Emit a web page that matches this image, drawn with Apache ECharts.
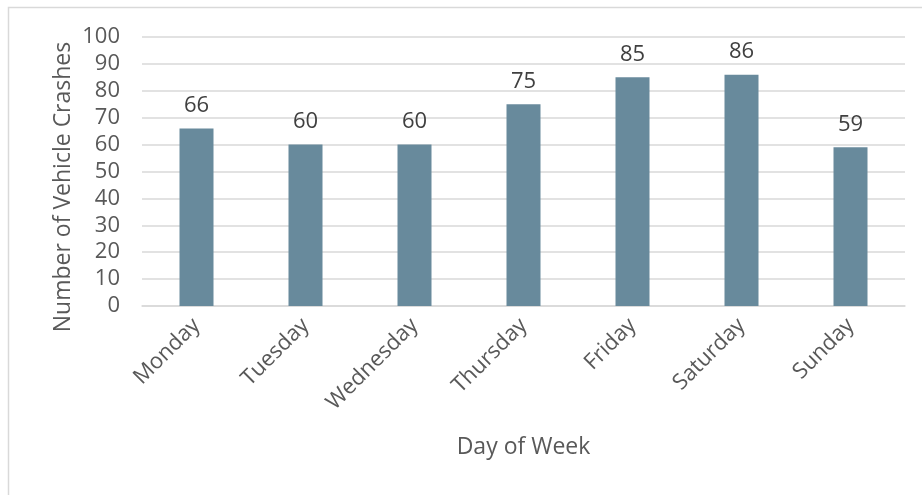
<!DOCTYPE html>
<html>
<head>
<meta charset="utf-8">
<script src="https://cdn.jsdelivr.net/npm/echarts@6/dist/echarts.min.js"></script>
<style>
  html, body { margin: 0; padding: 0; background: #fff; }
  #chart { width: 922px; height: 495px; }
</style>
</head>
<body>
<div id="chart"></div>
<script>
// Vehicle crashes by day of week
const days = ['Monday', 'Tuesday', 'Wednesday', 'Thursday', 'Friday', 'Saturday', 'Sunday'];
const crashes = [66, 60, 60, 75, 85, 86, 59];
const yTicks = { min: 0, max: 100, interval: 10 };

const FONT = '"Open Sans", "Noto Sans", sans-serif';
const TEXT = '#595959';
const GRID = '#D9D9D9';

const chart = echarts.init(document.getElementById('chart'), null, { renderer: 'canvas' });

chart.setOption({
  backgroundColor: '#ffffff',
  animation: false,
  textStyle: { fontFamily: FONT, color: TEXT },
  grid: { left: 142, right: 17, top: 37, bottom: 189, containLabel: false },
  graphic: [
    {
      type: 'rect',
      shape: { x: 8.5, y: 7.5, width: 960, height: 560 },
      style: { fill: 'none', stroke: GRID, lineWidth: 1.5 },
      silent: true
    },
    {
      type: 'text',
      x: 63, y: 187,
      rotation: Math.PI / 2,
      style: {
        text: 'Number of Vehicle Crashes',
        font: '23px ' + FONT,
        fill: TEXT,
        align: 'center',
        verticalAlign: 'middle'
      },
      silent: true
    }
  ],
  xAxis: {
    type: 'category',
    data: days,
    name: 'Day of Week',
    nameLocation: 'middle',
    nameGap: 130,
    nameTextStyle: { fontSize: 23, color: TEXT, fontFamily: FONT },
    axisLine: { show: true, lineStyle: { color: GRID, width: 1.5 } },
    axisTick: { show: false },
    axisLabel: { rotate: 45, fontSize: 22, color: TEXT, fontFamily: FONT, margin: 16, interval: 0 }
  },
  yAxis: {
    type: 'value',
    min: yTicks.min,
    max: yTicks.max,
    interval: yTicks.interval,
    axisLine: { show: false },
    axisTick: { show: false },
    axisLabel: { fontSize: 22, color: TEXT, fontFamily: FONT, margin: 22 },
    splitLine: { show: true, lineStyle: { color: GRID, width: 1.5 } }
  },
  series: [{
    type: 'bar',
    data: crashes,
    barWidth: 34,
    itemStyle: { color: '#688A9C' },
    label: {
      show: true,
      position: 'top',
      distance: 12,
      fontSize: 22,
      color: '#404040',
      fontFamily: FONT
    }
  }]
});
</script>
</body>
</html>
